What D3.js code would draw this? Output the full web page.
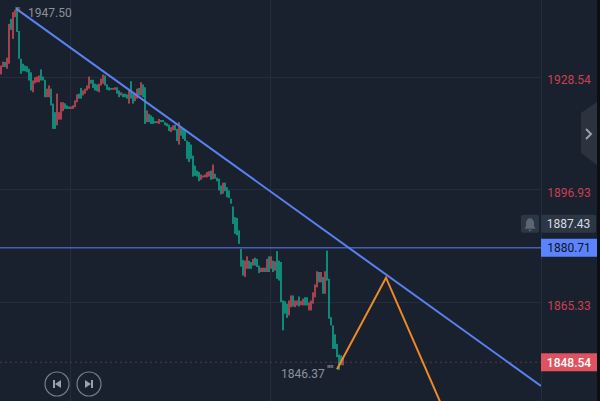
<!DOCTYPE html>
<html><head><meta charset="utf-8">
<script src="https://cdn.jsdelivr.net/npm/d3@7"></script>
<style>html,body{margin:0;padding:0;background:#19212f;overflow:hidden}svg{display:block}text{font-family:Roboto,"Noto Sans",sans-serif}</style>
</head><body><svg id="c" width="600" height="401"></svg>
<script>
// [open, close] of each candle
const candleOpen=[1929.4,1931.5,1932.9,1931.0,1932.4,1945.0,1939.4,1945.5,1947.5,1941.6,1933.8,1932.4,1931.9,1931.7,1931.0,1930.0,1924.4,1926.9,1927.2,1927.2,1930.8,1928.8,1927.9,1923.0,1923.0,1925.4,1921.2,1918.8,1915.1,1916.7,1916.7,1919.1,1921.3,1920.7,1920.4,1919.7,1919.7,1920.2,1921.6,1924.0,1925.6,1923.5,1924.0,1924.9,1925.4,1927.9,1927.9,1926.8,1926.6,1924.4,1926.3,1926.8,1929.1,1926.6,1925.8,1925.6,1925.1,1925.1,1925.8,1924.9,1923.5,1924.0,1924.0,1923.8,1921.2,1927.5,1924.0,1921.9,1922.6,1925.6,1923.5,1926.6,1925.8,1916.0,1918.3,1917.9,1917.4,1916.3,1915.7,1915.5,1916.6,1916.6,1916.0,1915.7,1915.3,1913.2,1913.7,1915.3,1914.1,1909.7,1914.6,1914.1,1913.7,1910.8,1910.4,1909.7,1906.6,1903.8,1902.4,1902.0,1899.8,1900.4,1900.5,1900.5,1900.7,1902.4,1900.0,1901.5,1900.4,1900.1,1898.2,1895.9,1899.0,1897.7,1896.8,1894.5,1892.3,1889.3,1889.1,1885.6,1880.4,1877.3,1872.5,1874.8,1877.1,1876.7,1875.7,1877.9,1877.6,1875.7,1873.9,1873.9,1875.1,1873.9,1878.3,1874.8,1877.1,1874.3,1879.8,1877.1,1876.7,1865.9,1865.7,1865.0,1861.7,1864.0,1867.3,1864.0,1864.5,1867.0,1864.6,1864.5,1866.8,1866.8,1863.1,1863.1,1865.0,1866.8,1869.6,1873.9,1871.0,1872.5,1867.8,1879.9,1872.0,1861.2,1858.9,1856.4,1853.7,1850.7,1850.5,1847.7];
const candleClose=[1931.9,1933.0,1931.5,1934.1,1943.6,1941.9,1946.9,1947.5,1941.3,1933.8,1929.6,1930.3,1930.3,1930.0,1927.7,1924.9,1927.7,1928.6,1928.8,1929.1,1927.7,1927.7,1923.0,1925.4,1926.3,1920.7,1914.1,1914.1,1924.0,1918.8,1921.6,1921.6,1919.7,1919.7,1919.7,1920.4,1920.7,1922.1,1923.8,1922.6,1922.6,1924.9,1925.4,1926.3,1928.8,1926.8,1925.6,1924.9,1924.7,1926.8,1928.2,1929.4,1926.3,1925.1,1924.9,1925.1,1925.6,1925.8,1924.0,1923.0,1924.4,1923.0,1923.0,1922.6,1924.9,1922.6,1921.2,1924.1,1925.4,1923.5,1927.2,1923.0,1915.5,1919.3,1916.0,1915.5,1915.5,1915.7,1916.3,1916.9,1916.0,1916.0,1915.1,1914.8,1913.5,1914.6,1915.1,1913.7,1910.7,1916.0,1912.2,1911.3,1910.7,1905.7,1904.8,1905.7,1900.7,1900.9,1900.7,1899.4,1901.3,1901.0,1901.3,1902.0,1902.2,1899.8,1904.1,1900.1,1899.4,1896.8,1895.7,1899.0,1896.6,1894.9,1894.7,1893.1,1887.4,1884.6,1884.2,1881.8,1875.4,1872.9,1877.1,1878.3,1874.8,1874.8,1877.6,1875.7,1875.3,1873.6,1875.1,1875.1,1873.9,1877.6,1873.9,1878.3,1873.9,1876.9,1872.0,1871.5,1865.4,1857.5,1862.2,1861.0,1865.9,1867.3,1864.2,1865.9,1865.9,1864.2,1865.8,1866.4,1864.5,1864.5,1865.4,1865.9,1868.2,1870.4,1874.1,1871.0,1873.9,1867.8,1874.1,1871.5,1860.8,1858.9,1852.3,1852.3,1850.0,1846.4,1847.7,1850.0];
const axisTicks=[1928.54,1896.93,1865.33];
const priceHigh=1947.50, priceLow=1846.37, lastPrice=1848.54, hoverPrice=1887.43, linePrice=1880.71;
const trendIdx=[8,270.5], trendPrice=[1947.9,1841.9];
const waveIdx=[168.5,193,220], wavePrice=[1846.6,1872.3,1837.5];
const vGridIdx=[35,135];

const W=600,H=401,PW=541;
const x=d3.scaleLinear().domain([0,270.5]).range([0,PW]);
const y=d3.scaleLinear().domain([1928.54,1865.33]).range([77.5,302.5]);
const svg=d3.select('#c');
svg.append('rect').attr('width',W).attr('height',H).attr('fill','#19212f');
svg.append('rect').attr('x',597).attr('width',3).attr('height',H).attr('fill','#0b0e13');
const defs=svg.append('defs');
defs.append('clipPath').attr('id','p').append('rect').attr('width',PW).attr('height',H);
const plot=svg.append('g').attr('clip-path','url(#p)');
const grid='#232d3b';
plot.selectAll('.h').data(axisTicks).join('line').attr('x1',0).attr('x2',PW).attr('y1',d=>Math.round(y(d))+.5-1).attr('y2',d=>Math.round(y(d))+.5-1).attr('stroke',grid);
plot.selectAll('.v').data(vGridIdx).join('line').attr('x1',d=>x(d)+.5).attr('x2',d=>x(d)+.5).attr('y1',0).attr('y2',H).attr('stroke',grid);
svg.append('line').attr('x1',541.5).attr('x2',541.5).attr('y1',0).attr('y2',H).attr('stroke',grid);
// last price dashed
plot.append('line').attr('x1',0).attr('x2',PW).attr('y1',y(lastPrice)).attr('y2',y(lastPrice)).attr('stroke','#5c3543').attr('stroke-width',1).attr('stroke-dasharray','2 3');
// candles
plot.selectAll('.c').data(candleOpen).join('rect')
 .attr('x',(d,i)=>x(i)).attr('width',2)
 .attr('y',(d,i)=>y(Math.max(d,candleClose[i])))
 .attr('height',(d,i)=>Math.max(1,Math.abs(y(d)-y(candleClose[i]))))
 .attr('fill',(d,i)=>candleClose[i]>=d?'#a9404f':'#0f8a78');
// horizontal line
plot.append('line').attr('x1',0).attr('x2',PW).attr('y1',y(linePrice)).attr('y2',y(linePrice)).attr('stroke','#4660b8').attr('stroke-width',1.6);
const ln=d3.line().x(d=>x(d[0])).y(d=>y(d[1]));
plot.append('path').attr('d',ln(d3.zip(trendIdx,trendPrice))).attr('fill','none').attr('stroke','#5b80f0').attr('stroke-width',2);
plot.append('path').attr('d',ln(d3.zip(waveIdx,wavePrice))).attr('fill','none').attr('stroke','#ee8a26').attr('stroke-width',2);
// extremes
svg.append('text').attr('x',15).attr('y',17).attr('font-size',12).attr('fill','#8b919c').text("'''");
svg.append('text').attr('x',28).attr('y',17).attr('font-size',12).attr('fill','#8b919c').text(priceHigh.toFixed(2));
svg.append('text').attr('x',281).attr('y',378).attr('font-size',12).attr('fill','#8b919c').text(priceLow.toFixed(2));
svg.append('text').attr('x',327).attr('y',375).attr('font-size',12).attr('fill','#8b919c').text("''''");
// axis labels
const ax=svg.append('g');
ax.selectAll('text').data(axisTicks).join('text').attr('x',569).attr('y',d=>Math.round(y(d))+(d>1900?6:7)).attr('text-anchor','middle').attr('font-size',12).attr('fill','#c9404f').text(d=>d.toFixed(2));
function tag(v,x0,w,bg,fg,weight){
 const cy=y(v);
 svg.append('rect').attr('x',x0).attr('y',cy-9).attr('width',w).attr('height',18).attr('rx',x0===541&&bg==='#2c3745'?2:0).attr('fill',bg);
 svg.append('text').attr('x',x0+w/2).attr('y',cy+4.5).attr('text-anchor','middle').attr('font-size',12).attr('font-weight',weight||400).attr('fill',fg).text(v.toFixed(2));
}
tag(hoverPrice,541,55,'#2c3745','#d8dbe0');
tag(linePrice,541,56,'#5b83fb','#10141c');
tag(lastPrice,541,56,'#df525f','#ffffff',500);
// bell
const by=y(hoverPrice);
svg.append('rect').attr('x',521).attr('y',by-9).attr('width',18).attr('height',18).attr('rx',2).attr('fill','#2c3745');
svg.append('path').attr('d',`M524.5 ${by+5} h11 l-1.5 -2.5 v-3.5 a4 4.5 0 0 0 -8 0 v3.5 z M528.5 ${by+6} h3 a1.5 1.5 0 0 1 -3 0 z`).attr('fill','#5b6573');
// side handle
svg.append('path').attr('d','M597 102 L581 113 V153 L597 165 Z').attr('fill','#2c333e');
svg.append('path').attr('d','M586 129 L591 134 L586 139').attr('fill','none').attr('stroke','#98a0ab').attr('stroke-width',2);
// nav buttons
[[57,-1],[89,1]].forEach(([cx,dir])=>{
 svg.append('circle').attr('cx',cx).attr('cy',384).attr('r',12).attr('fill','none').attr('stroke','#767d8b').attr('stroke-width',1.2);
 if(dir<0){
  svg.append('path').attr('d',`M${cx+4} 380 V388 L${cx-2} 384 Z`).attr('fill','#9aa0ac');
  svg.append('rect').attr('x',cx-4).attr('y',380).attr('width',2).attr('height',8).attr('fill','#9aa0ac');
 } else {
  svg.append('path').attr('d',`M${cx-4} 380 V388 L${cx+2} 384 Z`).attr('fill','#9aa0ac');
  svg.append('rect').attr('x',cx+2).attr('y',380).attr('width',2).attr('height',8).attr('fill','#9aa0ac');
 }
});
</script></body></html>
